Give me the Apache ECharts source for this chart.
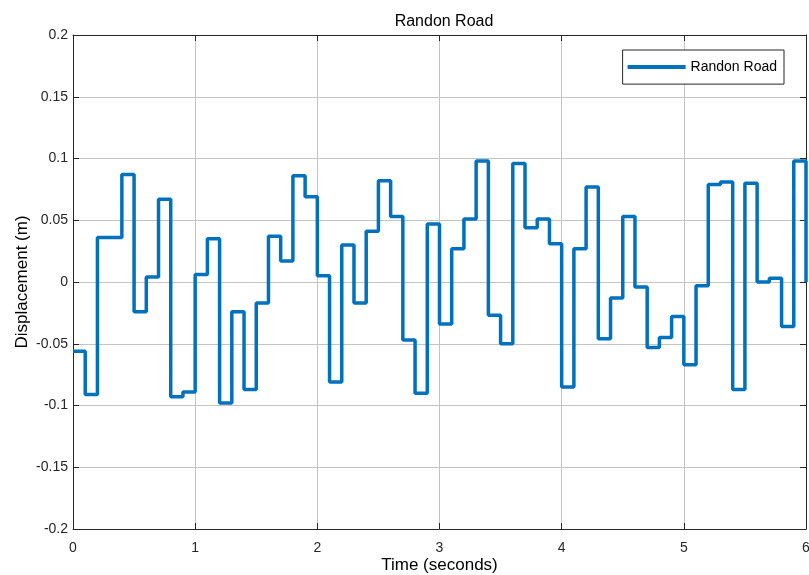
<style>body { margin: 0; }</style>
<div id="main" style="width:809px; height:575px;"></div>

<script src="https://cdn.jsdelivr.net/npm/echarts@6/dist/echarts.min.js"></script>
<script>
var myChart = echarts.init(document.getElementById('main'));

// step start times (s), one every 0.1 s, plus the end point
var times = [];
for (var i = 0; i <= 60; i++) times.push(+(i * 0.1).toFixed(1));

// displacement held over each 0.1 s step (m), last entry is the drop at t=6
var displacement = [
	-0.056, -0.091, 0.036, 0.036, 0.087, -0.024, 0.004, 0.067, -0.093, -0.089,
	0.006, 0.035, -0.098, -0.024, -0.087, -0.017, 0.037, 0.017, 0.086, 0.069,
	0.005, -0.081, 0.030, -0.017, 0.041, 0.082, 0.053, -0.047, -0.090, 0.047,
	-0.034, 0.027, 0.051, 0.098, -0.027, -0.050, 0.096, 0.044, 0.051, 0.031,
	-0.085, 0.027, 0.077, -0.046, -0.013, 0.053, -0.004, -0.053, -0.045, -0.028,
	-0.067, -0.003, 0.079, 0.081, -0.087, 0.080, 0.000, 0.003, -0.036, 0.098,
	0.000
];

var seriesName = 'Randon Road';

var font = 'Liberation Sans, Arial, sans-serif';
var frame = '#262626';

function sideAxis(extra) {
	return Object.assign({
		type: 'value',
		axisLine: { show: true, onZero: false, lineStyle: { color: frame, width: 1 } },
		axisTick: { show: true, inside: true, length: 6, lineStyle: { color: frame } },
		axisLabel: { show: false },
		splitLine: { show: false }
	}, extra);
}

myChart.setOption({
	animation: false,
	title: {
		text: 'Randon Road',
		left: 439,
		textAlign: 'center',
		top: 3,
		textStyle: { fontFamily: font, fontSize: 16, fontWeight: 'normal', color: '#000' }
	},
	legend: {
		data: [seriesName],
		right: 25,
		top: 50,
		orient: 'vertical',
		backgroundColor: '#fff',
		borderColor: frame,
		borderWidth: 1,
		borderRadius: 0,
		padding: [5, 7, 5, 5],
		itemWidth: 58,
		itemHeight: 4,
		itemGap: 0,
		icon: 'rect',
		textStyle: { fontFamily: font, fontSize: 14, color: '#000' }
	},
	grid: { left: 73, right: 3, top: 35, bottom: 46, outerBoundsMode: 'none', containLabel: false },
	xAxis: [{
		type: 'value',
		min: 0, max: 6, interval: 1,
		name: 'Time (seconds)',
		nameLocation: 'middle',
		nameGap: 36,
		nameMoveOverlap: false,
		nameTextStyle: { fontFamily: font, fontSize: 17, color: '#000', verticalAlign: 'middle', padding: 0 },
		axisLine: { onZero: false, lineStyle: { color: frame, width: 1 } },
		axisTick: { inside: true, length: 6, lineStyle: { color: frame } },
		axisLabel: { fontFamily: font, fontSize: 14, color: frame, margin: 7, showMaxLabel: true, showMinLabel: true },
		splitLine: { show: true, lineStyle: { color: '#c4c4c4', width: 1 } }
	}, sideAxis({ position: 'top', min: 0, max: 6, interval: 1 })],
	yAxis: [{
		type: 'value',
		min: -0.2, max: 0.2, interval: 0.05,
		name: 'Displacement (m)',
		nameLocation: 'middle',
		nameGap: 51,
		nameMoveOverlap: false,
		nameTextStyle: { fontFamily: font, fontSize: 17, color: '#000', verticalAlign: 'middle', padding: 0 },
		axisLine: { show: true, onZero: false, lineStyle: { color: frame, width: 1 } },
		axisTick: { show: true, inside: true, length: 6, lineStyle: { color: frame } },
		axisLabel: {
			fontFamily: font, fontSize: 14, color: frame, margin: 5,
			showMaxLabel: true, showMinLabel: true,
			formatter: function (v) { return +v.toFixed(2) + ''; }
		},
		splitLine: { show: true, lineStyle: { color: '#c4c4c4', width: 1 } }
	}, sideAxis({ position: 'right', min: -0.2, max: 0.2, interval: 0.05 })],
	series: [{
		name: seriesName,
		type: 'line',
		step: 'end',
		showSymbol: false,
		symbol: 'none',
		clip: false,
		color: '#0072BD',
		lineStyle: { width: 3.5, color: '#0072BD' },
		data: times.map((t, idx) => [t, displacement[idx]])
	}]
});
</script>
